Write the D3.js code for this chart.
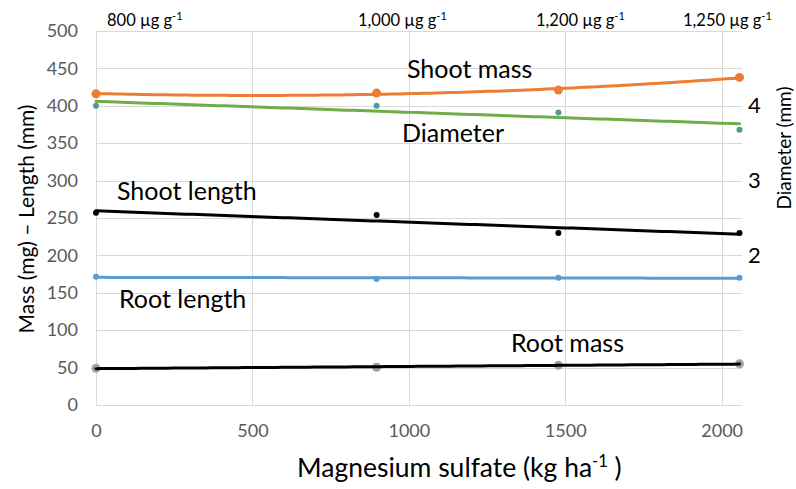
<!DOCTYPE html>
<html>
<head>
<meta charset="utf-8">
<script src="https://cdn.jsdelivr.net/npm/d3@7"></script>
<style>
  html, body { margin: 0; padding: 0; background: #fff; }
  svg { display: block; font-family: Lato, "Open Sans", sans-serif; }
</style>
</head>
<body>
<svg id="chart" width="796" height="489"></svg>
<script>
// ---- data ----
const doses = [0, 897, 1478, 2057];                // Magnesium sulfate (kg ha-1)
const shootMass = [416, 417, 421, 438];            // mg
const shootLength = [257, 254, 230, 230];          // mm
const rootLength = [171.5, 168.5, 170, 170];       // mm
const rootMass = [49, 50.5, 53, 55];               // mg
const diameter = [4.0, 4.0, 3.91, 3.68];           // mm (right axis)
const xTicks = [0, 500, 1000, 1500, 2000];
const yTicks = [0, 50, 100, 150, 200, 250, 300, 350, 400, 450, 500];
const diameterTicks = [2, 3, 4];
const topLabels = ["800", "1,000", "1,200", "1,250"];

// ---- layout ----
const svg = d3.select("#chart");
const m = { left: 96, right: 742, top: 31, bottom: 405 };
const x = d3.scaleLinear().domain([0, 2065]).range([m.left, m.right]);
const y = d3.scaleLinear().domain([0, 500]).range([m.bottom, m.top]);
const y2 = d3.scaleLinear().domain([0, 5]).range([m.bottom, m.top]);

// gridlines
const grid = svg.append("g").attr("stroke", "#d9d9d9").attr("stroke-width", 1);
yTicks.forEach(t => grid.append("line")
  .attr("x1", m.left).attr("x2", m.right)
  .attr("y1", Math.round(y(t)) + 0.5).attr("y2", Math.round(y(t)) + 0.5));
xTicks.forEach(t => grid.append("line")
  .attr("y1", m.top).attr("y2", m.bottom)
  .attr("x1", Math.round(x(t)) + 0.5).attr("x2", Math.round(x(t)) + 0.5));

// axes (labels only)
const yAxis = d3.axisLeft(y).tickValues(yTicks).tickSize(0).tickPadding(18);
const gy = svg.append("g").attr("transform", `translate(${m.left},0)`).call(yAxis);
gy.select(".domain").remove();
gy.selectAll("text").attr("font-size", 18).attr("fill", "#595959").attr("font-family", "Lato");

const xAxis = d3.axisBottom(x).tickValues(xTicks).tickSize(0).tickPadding(19).tickFormat(d3.format("d"));
const gx = svg.append("g").attr("transform", `translate(0,${m.bottom})`).call(xAxis);
gx.select(".domain").remove();
gx.selectAll("text").attr("font-size", 18).attr("fill", "#595959").attr("font-family", "Lato");

const y2Axis = d3.axisRight(y2).tickValues(diameterTicks).tickSize(0).tickPadding(6).tickFormat(d3.format("d"));
const gy2 = svg.append("g").attr("transform", `translate(${m.right},0)`).call(y2Axis);
gy2.select(".domain").remove();
gy2.selectAll("text").attr("font-size", 22).attr("fill", "#000").attr("font-family", "Lato");

// ---- regression helpers ----
function linFit(xs, ys) {
  const n = xs.length, mx = d3.mean(xs), my = d3.mean(ys);
  let sxy = 0, sxx = 0;
  for (let i = 0; i < n; i++) { sxy += (xs[i]-mx)*(ys[i]-my); sxx += (xs[i]-mx)**2; }
  const b = sxy / sxx, a = my - b * mx;
  return v => a + b * v;
}
function quadFit(xs, ys) {
  const s = 1000;
  const X = xs.map(v => v / s);
  const S = k => d3.sum(X, v => v ** k);
  const T = k => d3.sum(X.map((v, i) => ys[i] * v ** k));
  const A = [[S(0), S(1), S(2)], [S(1), S(2), S(3)], [S(2), S(3), S(4)]];
  const B = [T(0), T(1), T(2)];
  for (let i = 0; i < 3; i++) {
    for (let j = i + 1; j < 3; j++) {
      const f = A[j][i] / A[i][i];
      for (let k = i; k < 3; k++) A[j][k] -= f * A[i][k];
      B[j] -= f * B[i];
    }
  }
  const c = [0, 0, 0];
  for (let i = 2; i >= 0; i--) {
    let sum = B[i];
    for (let k = i + 1; k < 3; k++) sum -= A[i][k] * c[k];
    c[i] = sum / A[i][i];
  }
  return v => c[0] + c[1] * (v / s) + c[2] * (v / s) ** 2;
}

const xs = d3.range(0, 101).map(i => doses[0] + (doses[doses.length-1] - doses[0]) * i / 100);

function drawTrend(fn, scale, color, width) {
  svg.append("path")
    .datum(xs)
    .attr("fill", "none").attr("stroke", color).attr("stroke-width", width)
    .attr("stroke-linecap", "round")
    .attr("d", d3.line().x(d => x(d)).y(d => scale(fn(d))));
}
function drawPoints(vals, scale, color, r) {
  svg.append("g").selectAll("circle").data(vals).join("circle")
    .attr("cx", (d, i) => x(doses[i])).attr("cy", d => scale(d))
    .attr("r", r).attr("fill", color);
}

// Diameter (right axis)
drawPoints(diameter, y2, "#4f9a94", 3);
drawTrend(linFit(doses, diameter), y2, "#70ad47", 3);
// Shoot mass
drawTrend(quadFit(doses, shootMass), y, "#ed7d31", 3);
drawPoints(shootMass, y, "#ed7d31", 4.5);
// Shoot length
drawTrend(linFit(doses, shootLength), y, "#000", 3);
drawPoints(shootLength, y, "#000", 3);
// Root length
drawTrend(linFit(doses, rootLength), y, "#5b9bd5", 3);
drawPoints(rootLength, y, "#5b9bd5", 3);
// Root mass
drawPoints(rootMass, y, "#a0a0a0", 4.5);
drawTrend(linFit(doses, rootMass), y, "#000", 3);

// ---- series annotations ----
const ann = [
  { t: "Shoot mass", x: 407, y: 78 },
  { t: "Diameter", x: 402, y: 142 },
  { t: "Shoot length", x: 117, y: 200 },
  { t: "Root length", x: 119, y: 308 },
  { t: "Root mass", x: 511, y: 352 }
];
ann.forEach(a => svg.append("text").attr("x", a.x).attr("y", a.y)
  .attr("font-size", 25).attr("fill", "#000").text(a.t));

// top dose labels
const topPos = [107, 358, 536, 683];
topLabels.forEach((lab, i) => {
  const t = svg.append("text").attr("x", topPos[i]).attr("y", 26)
    .attr("font-size", 16.5).attr("fill", "#000");
  t.append("tspan").text(lab + " µg g");
  t.append("tspan").attr("font-size", 11).attr("dy", -6).text("-1");
});

// axis titles
svg.append("text")
  .attr("transform", "translate(34,219) rotate(-90)")
  .attr("text-anchor", "middle").attr("font-size", 21).attr("fill", "#000")
  .text("Mass (mg) – Length (mm)");
svg.append("text")
  .attr("transform", "translate(791,148) rotate(-90)")
  .attr("text-anchor", "middle").attr("font-size", 19).attr("fill", "#000")
  .text("Diameter (mm)");
const xt = svg.append("text").attr("x", 297).attr("y", 477)
  .attr("font-size", 26.5).attr("fill", "#000");
xt.append("tspan").text("Magnesium sulfate (kg ha");
xt.append("tspan").attr("font-size", 16.5).attr("dy", -10).text("-1");
xt.append("tspan").attr("dy", 10).text(" )");
</script>
</body>
</html>
